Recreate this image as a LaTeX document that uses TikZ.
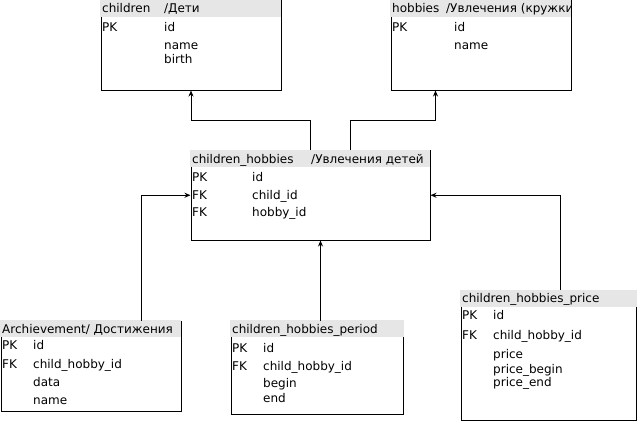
\documentclass[tikz,border=0pt]{standalone}
\usepackage{fontspec}
\setmainfont{DejaVu Sans}
\usetikzlibrary{arrows.meta}
\definecolor{headgray}{RGB}{230,230,230}
\begin{document}
\begin{tikzpicture}[x=1pt,y=-1pt,>={Stealth[length=6pt,width=5pt]},
  tbl/.style={draw,line width=1pt,inner sep=0pt,anchor=north west},
  tbl_head/.style={fill=headgray,inner sep=0pt,anchor=north west},
  txt/.style={anchor=base west,inner sep=0pt,font=\fontsize{12}{14}\selectfont}]

  \useasboundingbox (0,0) rectangle (641,421);

  % children
  \node[tbl,minimum width=180,minimum height=89.5] (children) at (100.5,0) {};
  \node[tbl_head,minimum width=181,minimum height=18] (children_head) at (100,-1) {};
  \node[txt] (children_t) at (102,12.5) {\makebox[62pt][l]{children}/Дети};
  \node[txt] (children_k1) at (102,31.5) {PK};
  \node[txt] (children_f1) at (164,31.5) {id};
  \node[txt] (children_f2) at (164,49.5) {name};
  \node[txt] (children_f3) at (164,63.5) {birth};

  % hobbies
  \node[tbl,minimum width=180,minimum height=89.5] (hobbies) at (390.5,0) {};
  \node[tbl_head,minimum width=181,minimum height=18] (hobbies_head) at (390,-1) {};
  \begin{scope}
    \clip (hobbies_head.north west) rectangle (hobbies_head.south east);
    \node[txt] (hobbies_t) at (392,12.5) {\makebox[54pt][l]{hobbies}/Увлечения (кружки)};
  \end{scope}
  \node[txt] (hobbies_k1) at (392,31.5) {PK};
  \node[txt] (hobbies_f1) at (454,31.5) {id};
  \node[txt] (hobbies_f2) at (454,49.5) {name};

  % children_hobbies
  \node[tbl,minimum width=239,minimum height=89.5] (chh) at (190.5,150) {};
  \node[tbl_head,minimum width=240,minimum height=17] (chh_head) at (190,150) {};
  \node[txt] (chh_t) at (192,163.5) {\makebox[119pt][l]{children\_hobbies}/Увлечения детей};
  \node[txt] (chh_k1) at (192,181.5) {PK};
  \node[txt] (chh_f1) at (252,181.5) {id};
  \node[txt] (chh_k2) at (192,199.5) {FK};
  \node[txt] (chh_f2) at (252,199.5) {child\_id};
  \node[txt] (chh_k3) at (192,216.5) {FK};
  \node[txt] (chh_f3) at (252,216.5) {hobby\_id};

  % achievements
  \node[tbl,minimum width=180,minimum height=90.5] (ach) at (0.5,320.5) {};
  \node[tbl_head,minimum width=181,minimum height=17] (ach_head) at (0,320) {};
  \node[txt] (ach_t) at (2,333.5) {Archievement/ Достижения};
  \node[txt] (ach_k1) at (2,349.5) {PK};
  \node[txt] (ach_f1) at (33,349.5) {id};
  \node[txt] (ach_k2) at (2,368.5) {FK};
  \node[txt] (ach_f2) at (33,368.5) {child\_hobby\_id};
  \node[txt] (ach_f3) at (33,386.5) {data};
  \node[txt] (ach_f4) at (33,404.5) {name};

  % period
  \node[tbl,minimum width=172.5,minimum height=93.5] (period) at (230.5,320.5) {};
  \node[tbl_head,minimum width=173.5,minimum height=17] (period_head) at (230,320) {};
  \node[txt] (period_t) at (232,333.5) {children\_hobbies\_period};
  \node[txt] (period_k1) at (232,352) {PK};
  \node[txt] (period_f1) at (263,352) {id};
  \node[txt] (period_k2) at (232,370) {FK};
  \node[txt] (period_f2) at (263,370) {child\_hobby\_id};
  \node[txt] (period_f3) at (263,387) {begin};
  \node[txt] (period_f4) at (263,402.5) {end};

  % price
  \node[tbl,minimum width=175.5,minimum height=129.5] (price) at (460.5,290) {};
  \node[tbl_head,minimum width=176.5,minimum height=17] (price_head) at (460,290) {};
  \node[txt] (price_t) at (462,302.5) {children\_hobbies\_price};
  \node[txt] (price_k1) at (462,319.5) {PK};
  \node[txt] (price_f1) at (493,319.5) {id};
  \node[txt] (price_k2) at (462,339.5) {FK};
  \node[txt] (price_f2) at (493,339.5) {child\_hobby\_id};
  \node[txt] (price_f3) at (493,358.5) {price};
  \node[txt] (price_f4) at (493,373.5) {price\_begin};
  \node[txt] (price_f5) at (493,386) {price\_end};

  \path[->,draw,line width=1pt]
  (chh.north) -- ++(0,-30) -| (children.south)
  ;
  \path[->,draw,line width=1pt]
  ([xshift=40]chh.north) -- ++(0,-30) -| ([xshift=-45.5]hobbies.south)
  ;
  \path[->,draw,line width=1pt]
  ([xshift=50]ach.north) |- (chh.west)
  ;
  \path[->,draw,line width=1pt]
  ([xshift=3.25]period.north) -- ([xshift=10]chh.south)
  ;
  \path[->,draw,line width=1pt]
  ([xshift=11.75]price.north) |- (chh.east)
  ;
\end{tikzpicture}
\end{document}
